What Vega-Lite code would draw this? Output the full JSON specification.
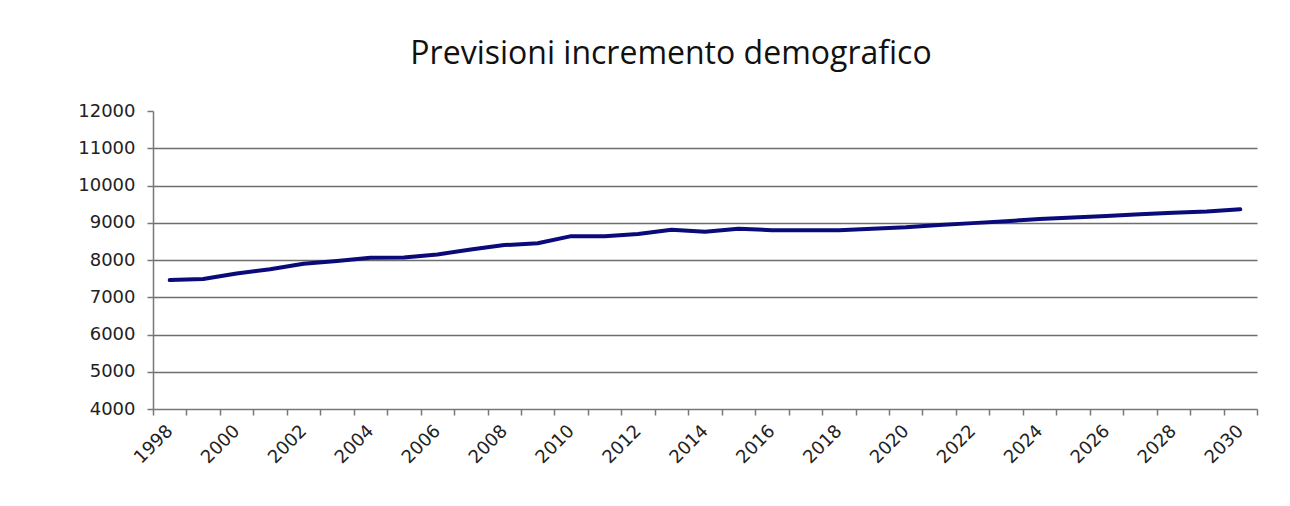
{
  "$schema": "https://vega.github.io/schema/vega-lite/v6.json",
  "autosize": {"type": "none"},
  "width": 1104,
  "height": 298,
  "padding": {"left": 153, "top": 111, "right": 33, "bottom": 97},
  "background": "white",
  "title": {
    "text": "Previsioni incremento demografico",
    "font": "Open Sans",
    "fontSize": 32,
    "fontWeight": "normal",
    "color": "#111111",
    "anchor": "middle",
    "frame": "group",
    "baseline": "alphabetic",
    "dx": -34,
    "offset": 6
  },
  "data": {
    "values": [
      {"anno": 1998, "abitanti": 7460},
      {"anno": 1999, "abitanti": 7490},
      {"anno": 2000, "abitanti": 7640},
      {"anno": 2001, "abitanti": 7750},
      {"anno": 2002, "abitanti": 7900},
      {"anno": 2003, "abitanti": 7970},
      {"anno": 2004, "abitanti": 8060},
      {"anno": 2005, "abitanti": 8070},
      {"anno": 2006, "abitanti": 8150},
      {"anno": 2007, "abitanti": 8280},
      {"anno": 2008, "abitanti": 8400},
      {"anno": 2009, "abitanti": 8450},
      {"anno": 2010, "abitanti": 8640},
      {"anno": 2011, "abitanti": 8640},
      {"anno": 2012, "abitanti": 8700},
      {"anno": 2013, "abitanti": 8810},
      {"anno": 2014, "abitanti": 8760},
      {"anno": 2015, "abitanti": 8840},
      {"anno": 2016, "abitanti": 8800},
      {"anno": 2017, "abitanti": 8800},
      {"anno": 2018, "abitanti": 8800},
      {"anno": 2019, "abitanti": 8840},
      {"anno": 2020, "abitanti": 8880},
      {"anno": 2021, "abitanti": 8940},
      {"anno": 2022, "abitanti": 8990},
      {"anno": 2023, "abitanti": 9040},
      {"anno": 2024, "abitanti": 9100},
      {"anno": 2025, "abitanti": 9140},
      {"anno": 2026, "abitanti": 9180},
      {"anno": 2027, "abitanti": 9230},
      {"anno": 2028, "abitanti": 9270},
      {"anno": 2029, "abitanti": 9300},
      {"anno": 2030, "abitanti": 9360}
    ]
  },
  "mark": {"type": "line", "color": "#0a0a7a", "strokeWidth": 4, "strokeCap": "round", "strokeJoin": "round"},
  "encoding": {
    "x": {
      "field": "anno",
      "type": "ordinal",
      "scale": {"type": "band", "paddingInner": 0, "paddingOuter": 0},
      "axis": {
        "title": null,
        "tickBand": "extent",
        "grid": false,
        "labelAngle": -45,
        "labelAlign": "right",
        "labelBaseline": "middle",
        "labelPadding": 13,
        "labelOverlap": false,
        "labelExpr": "parseInt(datum.label) % 2 == 0 ? datum.label : ''",
        "labelFont": "DejaVu Sans",
        "labelFontSize": 18,
        "labelColor": "#222222",
        "domainColor": "#777777",
        "domainWidth": 1.5,
        "tickColor": "#777777",
        "tickWidth": 1.5,
        "tickSize": 6
      }
    },
    "y": {
      "field": "abitanti",
      "type": "quantitative",
      "scale": {"domain": [4000, 12000], "nice": false, "zero": false},
      "axis": {
        "title": null,
        "format": "d",
        "values": [4000, 5000, 6000, 7000, 8000, 9000, 10000, 11000, 12000],
        "grid": true,
        "gridColor": "#6e6e6e",
        "gridWidth": 1.5,
        "gridOpacity": {"condition": {"test": "datum.value == 12000 || datum.value == 4000", "value": 0}, "value": 1},
        "labelFont": "DejaVu Sans",
        "labelFontSize": 18,
        "labelColor": "#222222",
        "labelPadding": 12,
        "domainColor": "#777777",
        "domainWidth": 1.5,
        "tickColor": "#777777",
        "tickWidth": 1.5,
        "tickSize": 6
      }
    }
  },
  "config": {
    "view": {"stroke": null}
  }
}
